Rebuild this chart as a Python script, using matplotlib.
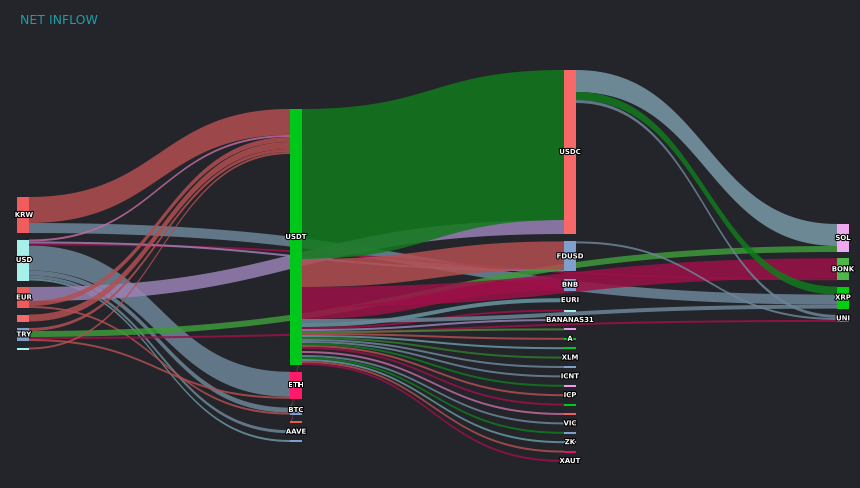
import numpy as np
import matplotlib.pyplot as plt
import matplotlib.patheffects as pe

# nodes: name, column, colour ('' name = unlabeled)
node_names = ["KRW", "USD", "EUR", "", "TRY", "",
              "USDT", "ETH", "BTC", "", "AAVE", "",
              "USDC", "FDUSD", "BNB", "EURI", "", "BANANAS31", "", "A", "", "XLM", "",
              "ICNT", "", "ICP", "", "", "VIC", "", "ZK", "", "XAUT",
              "SOL", "BONK", "XRP", "UNI"]
node_ids = ["KRW", "USD", "EUR", "EUR2", "TRY", "TRY2",
            "USDT", "ETH", "BTC", "C1a", "AAVE", "C1b",
            "USDC", "FDUSD", "BNB", "EURI", "s1", "BANANAS31", "s2", "A", "s3", "XLM", "s4",
            "ICNT", "s5", "ICP", "s6", "s7", "VIC", "s8", "ZK", "s9", "XAUT",
            "SOL", "BONK", "XRP", "UNI"]
node_cols = [0]*6 + [1]*6 + [2]*21 + [3]*4
node_colors = ["#f25c5c", "#a6efea", "#ef5a5a", "#f76a6a", "#7f9fcc", "#a6efea",
               "#00c81a", "#ff1a6a", "#7f9fcc", "#e85a4a", "#ee88dd", "#7f9fcc",
               "#f96868", "#7f9fcc", "#7f9fcc", "#7f9fcc", "#a6efea", "#ee99ee", "#ee99ee", "#00c81a", "#00c81a", "#7f9fcc", "#7f9fcc",
               "#7f9fcc", "#ee99ee", "#ee99ee", "#00c81a", "#f25c5c", "#f25c5c", "#7f9fcc", "#7f9fcc", "#e0106a", "#7f9fcc",
               "#f0a8f0", "#4cb848", "#00d010", "#7f9fcc"]

RED, GRAY, GREEN, PINK, CRIM, LAV, TEAL = "#b24f50", "#6d8598", "#127a1c", "#c06aa0", "#9c1048", "#9a82b4", "#6a98a0"
links = [
    ("KRW", "USDT", 26, RED), ("KRW", "XRP", 10, GRAY),
    ("USD", "ETH", 25, GRAY), ("USD", "BTC", 5, GRAY), ("USD", "AAVE", 3, GRAY),
    ("USD", "USDT", 2, PINK), ("USD", "BONK", 2, CRIM), ("USD", "C1b", 2, TEAL), ("USD", "FDUSD", 2, LAV),
    ("EUR", "USDC", 14, LAV), ("EUR", "USDT", 5, RED), ("EUR", "BTC", 2, RED),
    ("EUR2", "USDT", 7, RED),
    ("TRY", "SOL", 6, "#3f9a3a"), ("TRY", "USDT", 3, RED), ("TRY", "UNI", 2, CRIM), ("TRY", "ETH", 2, RED),
    ("TRY2", "USDT", 2, RED),
    ("USDT", "USDC", 150, GREEN), ("USDT", "FDUSD", 28, RED), ("USDT", "BONK", 20, CRIM),
    ("USDT", "BNB", 12, CRIM), ("USDT", "EURI", 4, TEAL), ("USDT", "s1", 2, CRIM),
    ("USDT", "BANANAS31", 2, LAV), ("USDT", "s2", 2, "#4a8a3a"), ("USDT", "A", 2, RED),
    ("USDT", "s3", 2, TEAL), ("USDT", "XLM", 2, "#2f7a2a"), ("USDT", "s4", 2, GRAY),
    ("USDT", "ICNT", 2, GRAY), ("USDT", "s5", 2, GREEN), ("USDT", "ICP", 2, RED),
    ("USDT", "s6", 2, CRIM), ("USDT", "s7", 2, PINK), ("USDT", "VIC", 2, GRAY),
    ("USDT", "s8", 2, GREEN), ("USDT", "ZK", 2, TEAL), ("USDT", "s9", 2, RED),
    ("USDT", "XAUT", 2, CRIM), ("USDT", "BTC", 2, RED), ("USDT", "C1a", 2, RED),
    ("USDT", "XRP", 4, GRAY),
    ("USDC", "SOL", 22, "#7b9aa8"), ("USDC", "XRP", 8, GREEN), ("USDC", "UNI", 3, GRAY),
    ("FDUSD", "UNI", 2, GRAY),
]

# layout settings
col_x = [17, 290, 564, 837]
col_top = [197, 109, 70, 224]
col_gap = [6.5, 6.8, 7.4, 6.3]
node_w = 12

idx = {n: i for i, n in enumerate(node_ids)}
n = len(node_ids)
vin = np.zeros(n); vout = np.zeros(n)
for s, t, v, c in links:
    vout[idx[s]] += v; vin[idx[t]] += v
size = np.maximum(vin, vout)
ytop = np.zeros(n)
for c in range(4):
    y = col_top[c]
    for i in range(n):
        if node_cols[i] == c:
            ytop[i] = y
            y += size[i] + col_gap[c]
ymid = ytop + size / 2

fig = plt.figure(figsize=(8.6, 4.88), dpi=100, facecolor="#23252b")
ax = fig.add_axes([0, 0, 1, 1])
ax.set_facecolor("#23252b")
ax.set_xlim(0, 860); ax.set_ylim(488, 0); ax.axis("off")

# link offsets
src_off = {}; tgt_off = {}
for i in range(n):
    outs = sorted([k for k, l in enumerate(links) if idx[l[0]] == i], key=lambda k: ymid[idx[links[k][1]]])
    o = ytop[i]
    for k in outs:
        src_off[k] = o; o += links[k][2]
    ins = sorted([k for k, l in enumerate(links) if idx[l[1]] == i], key=lambda k: ymid[idx[links[k][0]]])
    o = ytop[i]
    for k in ins:
        tgt_off[k] = o; o += links[k][2]

t = np.linspace(0, 1, 60)
def bez(x0, y0, x1, y1):
    xm = (x0 + x1) / 2
    x = (1-t)**3*x0 + 3*(1-t)**2*t*xm + 3*(1-t)*t**2*xm + t**3*x1
    y = (1-t)**3*y0 + 3*(1-t)**2*t*y0 + 3*(1-t)*t**2*y1 + t**3*y1
    return x, y

for k, (s, tg, v, c) in enumerate(links):
    x0 = col_x[node_cols[idx[s]]] + node_w
    x1 = col_x[node_cols[idx[tg]]]
    xa, ya = bez(x0, src_off[k], x1, tgt_off[k])
    xb, yb = bez(x0, src_off[k] + v, x1, tgt_off[k] + v)
    ax.fill(np.r_[xa, xb[::-1]], np.r_[ya, yb[::-1]], color=c, alpha=0.85, lw=0)

for i in range(n):
    ax.add_patch(plt.Rectangle((col_x[node_cols[i]], ytop[i]), node_w, size[i], color=node_colors[i], lw=0))
    if node_names[i]:
        ax.text(col_x[node_cols[i]] + node_w / 2 + (1 if node_cols[i] == 0 else 0), ymid[i], node_names[i],
                ha="center", va="center", fontsize=5, fontweight="bold", color="white",
                path_effects=[pe.withStroke(linewidth=1.5, foreground="black")])

ax.text(20, 20, "NET INFLOW", color="#1fa0a8", fontsize=9, va="center", ha="left")
fig.savefig("out.png", dpi=100, facecolor=fig.get_facecolor())
